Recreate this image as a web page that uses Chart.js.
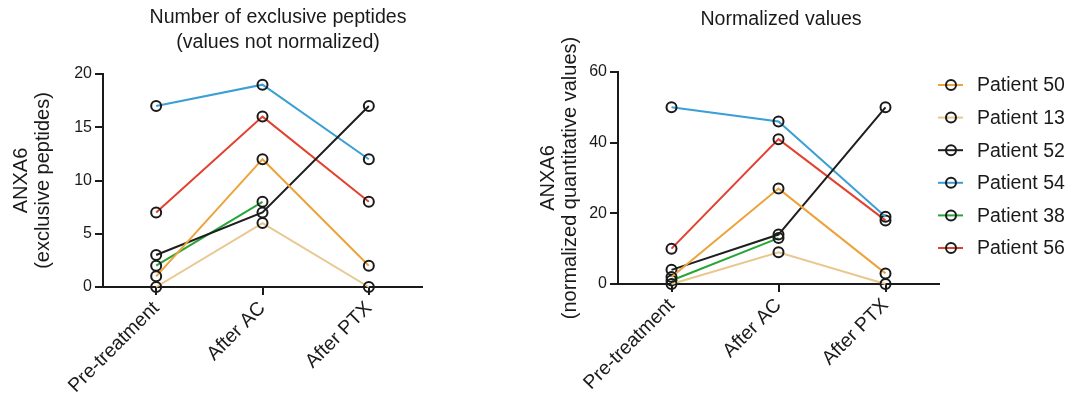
<!DOCTYPE html>
<html>
<head>
<meta charset="utf-8">
<script src="https://cdn.jsdelivr.net/npm/chart.js@4"></script>
<style>
body{margin:0;background:#fff;width:1072px;height:400px;overflow:hidden;position:relative}
canvas{position:absolute;top:0}
#left{left:0}
#right{left:510px}
</style>
</head>
<body>
<canvas id="left" width="450" height="400"></canvas>
<canvas id="right" width="562" height="400"></canvas>
<script>
const timepoints = ['Pre-treatment','After AC','After PTX'];
const patients = ['Patient 50','Patient 13','Patient 52','Patient 54','Patient 38','Patient 56'];
const lineColors = ['#eda33b','#e8c88f','#1e1e1e','#3a9fd5','#27a537','#e3412f'];

// one row per patient, same order as patients (null = no sample)
const peptides = [
[1,12,2],
[0,6,0],
[3,7,17],
[17,19,12],
[2,8,null],
[7,16,8]
];
const normalized = [
[2,27,3],
[0,9,0],
[4,14,50],
[50,46,19],
[1,13,null],
[10,41,18]
];
const peptideTicks = [0,5,10,15,20];
const normalizedTicks = [0,20,40,60];

const FONT = "'Liberation Sans', Arial, sans-serif";
const INK = '#1a1a1a';

const panelText = {
id:'panelText',
afterDraw(chart, args, opts){
const ctx = chart.ctx;
ctx.save();
ctx.fillStyle = INK;
ctx.textBaseline = 'middle';
ctx.textAlign = 'center';
ctx.font = '19.6px ' + FONT;
opts.title.forEach((t,i)=>ctx.fillText(t, opts.x, opts.y + i*24.5));
if(opts.legend){
const L = opts.legend;
ctx.font = '19.5px ' + FONT;
ctx.textAlign = 'left';
chart.data.datasets.forEach((ds,i)=>{
const y = L.y + i*L.gap;
ctx.strokeStyle = ds.borderColor;
ctx.lineWidth = 2;
ctx.beginPath();
ctx.moveTo(L.x, y);
ctx.lineTo(L.x+25, y);
ctx.stroke();
ctx.strokeStyle = INK;
ctx.beginPath();
ctx.arc(L.x+13, y, 5, 0, Math.PI*2);
ctx.stroke();
ctx.fillStyle = INK;
ctx.fillText(ds.label, L.x+39, y+1);
});
}
ctx.restore();
}
};

function makeChart(id, rows, ticks, yTitle, pad, yWidth, xHeight, textOpts){
return new Chart(document.getElementById(id), {
type:'line',
data:{
labels: timepoints,
datasets: patients.map((p,i)=>({
label:p,
data: rows[i],
borderColor: lineColors[i],
borderWidth:2,
pointRadius:5,
pointBorderWidth:2,
pointBorderColor: INK,
pointBackgroundColor:'rgba(0,0,0,0)',
tension:0,
clip:false
}))
},
options:{
responsive:false,
animation:false,
devicePixelRatio:1,
layout:{padding:pad},
plugins:{
legend:{display:false},
tooltip:{enabled:false},
panelText:textOpts
},
scales:{
x:{
offset:true,
afterFit:s=>{s.height = xHeight;},
border:{color:INK,width:2},
grid:{offset:false,drawOnChartArea:false,drawTicks:true,tickLength:8,color:INK,lineWidth:2},
ticks:{color:INK,font:{family:FONT,size:19.5},minRotation:45,maxRotation:45,padding:2}
},
y:{
min: ticks[0],
max: ticks[ticks.length-1],
afterBuildTicks:s=>{s.ticks = ticks.map(v=>({value:v}));},
afterFit:s=>{s.width = yWidth;},
border:{color:INK,width:2},
grid:{drawOnChartArea:false,drawTicks:true,tickLength:8,color:INK,lineWidth:2},
ticks:{color:INK,font:{family:FONT,size:16},padding:3},
title:{display:true,text:yTitle,color:INK,font:{family:FONT,size:20,lineHeight:1.1},padding:{top:pad.titleTop,bottom:0}}
}
}
},
plugins:[panelText]
});
}

makeChart('left', peptides, peptideTicks, ['ANXA6','(exclusive peptides)'],
{top:74,right:28,bottom:0,left:0,titleTop:10}, 103, 113,
{title:['Number of exclusive peptides','(values not normalized)'], x:278, y:18});

makeChart('right', normalized, normalizedTicks, ['ANXA6','(normalized quantitative values)'],
{top:72,right:133,bottom:0,left:0,titleTop:27}, 108, 116,
{title:['Normalized values'], x:271, y:20, legend:{x:428, y:85, gap:32.6}});
</script>
</body>
</html>
